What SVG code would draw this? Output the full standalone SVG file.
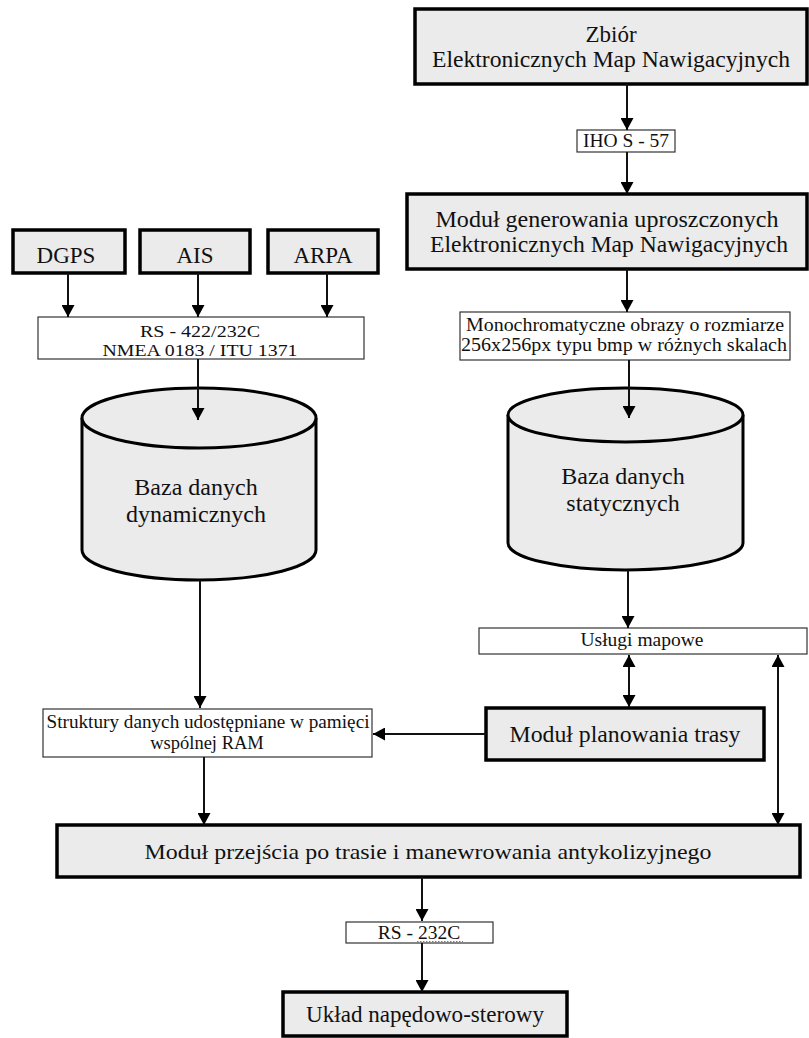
<svg xmlns="http://www.w3.org/2000/svg" width="809" height="1038" viewBox="0 0 809 1038">
<style>
.box{fill:#ebebeb;stroke:#000;stroke-width:3.5}
.lbl{fill:#fff;stroke:#333;stroke-width:1.2}
.cyl{fill:#ebebeb;stroke:#000;stroke-width:3}
text{font-family:"Liberation Serif","Times New Roman",serif;fill:#111;text-anchor:middle}
.big{font-size:23px}
.mid{font-size:19.5px}
.db{font-size:24px}
.con line{stroke:#111;stroke-width:2}
</style>
<defs>
<marker id="ah" markerUnits="userSpaceOnUse" viewBox="0 0 12 13" markerWidth="12" markerHeight="13" refX="12" refY="6.5" orient="auto-start-reverse">
<path d="M0,0 L12,6.5 L0,13 z" fill="#000"/>
</marker>
</defs>
<rect width="809" height="1038" fill="#fff"/>

<g id="zbior">
<rect class="box" x="415" y="9" width="392" height="75"/>
<text class="big" x="611" y="42">Zbiór</text>
<text class="big" x="611" y="67" textLength="358" lengthAdjust="spacingAndGlyphs">Elektronicznych Map Nawigacyjnych</text>
</g>
<g id="iho">
<rect class="lbl" x="577" y="130" width="98" height="22"/>
<text class="mid" x="626" y="147">IHO S - 57</text>
</g>
<g id="modul-gen">
<rect class="box" x="407" y="194" width="400" height="75"/>
<text class="big" x="607" y="227" textLength="343" lengthAdjust="spacingAndGlyphs">Moduł generowania uproszczonych</text>
<text class="big" x="609" y="252" textLength="358" lengthAdjust="spacingAndGlyphs">Elektronicznych Map Nawigacyjnych</text>
</g>
<g id="mono">
<rect class="lbl" x="460" y="312" width="330" height="48"/>
<text class="mid" x="625" y="331" textLength="318" lengthAdjust="spacingAndGlyphs">Monochromatyczne obrazy o rozmiarze</text>
<text class="mid" x="624" y="351" textLength="326" lengthAdjust="spacingAndGlyphs">256x256px typu bmp w różnych skalach</text>
</g>
<g id="baza-stat">
<path class="cyl" d="M508,415 A117.5,27 0 0 1 743,415 L743,543 A117.5,27 0 0 1 508,543 Z"/>
<path class="cyl" fill="none" d="M508,415 A117.5,27 0 0 0 743,415"/>
<text class="db" x="623" y="484">Baza danych</text>
<text class="db" x="623" y="511">statycznych</text>
</g>
<g id="uslugi">
<rect class="lbl" x="479" y="628" width="328" height="26"/>
<text x="642" y="646" style="font-size:18.5px" textLength="123" lengthAdjust="spacingAndGlyphs">Usługi mapowe</text>
</g>
<g id="planowanie">
<rect class="box" x="486" y="708" width="278" height="52"/>
<text class="db" x="625" y="742" textLength="231" lengthAdjust="spacingAndGlyphs">Moduł planowania trasy</text>
</g>
<g id="dgps">
<rect class="box" x="13" y="230" width="112" height="43"/>
<text class="big" x="66" y="263">DGPS</text>
</g>
<g id="ais">
<rect class="box" x="140" y="230" width="110" height="43"/>
<text class="big" x="195" y="263">AIS</text>
</g>
<g id="arpa">
<rect class="box" x="268" y="230" width="110" height="43"/>
<text class="big" x="323" y="263">ARPA</text>
</g>
<g id="rs422">
<rect class="lbl" x="38" y="317" width="326" height="42"/>
<text x="200" y="337" style="font-size:17.5px" textLength="120" lengthAdjust="spacingAndGlyphs">RS - 422/232C</text>
<text x="200" y="356" style="font-size:17.5px" textLength="195" lengthAdjust="spacingAndGlyphs">NMEA 0183 / ITU 1371</text>
</g>
<g id="baza-dyn">
<path class="cyl" d="M82,418 A117,30 0 0 1 316,418 L316,550 A117,30 0 0 1 82,550 Z"/>
<path class="cyl" fill="none" d="M82,418 A117,30 0 0 0 316,418"/>
<text class="db" x="196" y="495">Baza danych</text>
<text class="db" x="196" y="522">dynamicznych</text>
</g>
<g id="struktury">
<rect class="lbl" x="43" y="709" width="329" height="48"/>
<text x="208" y="728" style="font-size:18.5px" textLength="323" lengthAdjust="spacingAndGlyphs">Struktury danych udostępniane w pamięci</text>
<text x="207" y="749" style="font-size:18.5px">wspólnej RAM</text>
</g>
<g id="przejscie">
<rect class="box" x="57" y="825" width="743" height="52"/>
<text x="428" y="859" style="font-size:22px" textLength="567" lengthAdjust="spacingAndGlyphs">Moduł przejścia po trasie i manewrowania antykolizyjnego</text>
</g>
<g id="rs232">
<rect class="lbl" x="346" y="922" width="147" height="21"/>
<text class="mid" x="419" y="939">RS - 232C</text>
<line x1="417" y1="941.5" x2="463" y2="941.5" stroke="#d040d0" stroke-width="1" stroke-dasharray="1.5,1.5"/>
</g>
<g id="uklad">
<rect class="box" x="283" y="992" width="284" height="44"/>
<text class="big" x="425" y="1022" textLength="238" lengthAdjust="spacingAndGlyphs">Układ napędowo-sterowy</text>
</g>

<g id="connectors" class="con">
<line x1="627" y1="84" x2="627" y2="130" marker-end="url(#ah)"/>
<line x1="627" y1="152" x2="627" y2="194" marker-end="url(#ah)"/>
<line x1="627" y1="269" x2="627" y2="312" marker-end="url(#ah)"/>
<line x1="629" y1="360" x2="629" y2="418" marker-end="url(#ah)"/>
<line x1="628" y1="570" x2="628" y2="628" marker-end="url(#ah)"/>
<line x1="629" y1="655" x2="629" y2="707" marker-start="url(#ah)" marker-end="url(#ah)"/>
<line x1="778" y1="655" x2="778" y2="825" marker-start="url(#ah)" marker-end="url(#ah)"/>
<line x1="486" y1="734" x2="373" y2="734" marker-end="url(#ah)"/>
<line x1="68" y1="273" x2="68" y2="317" marker-end="url(#ah)"/>
<line x1="198" y1="273" x2="198" y2="317" marker-end="url(#ah)"/>
<line x1="327" y1="273" x2="327" y2="317" marker-end="url(#ah)"/>
<line x1="198" y1="359" x2="198" y2="420" marker-end="url(#ah)"/>
<line x1="200" y1="580" x2="200" y2="708" marker-end="url(#ah)"/>
<line x1="204" y1="757" x2="204" y2="825" marker-end="url(#ah)"/>
<line x1="422" y1="877" x2="422" y2="921" marker-end="url(#ah)"/>
<line x1="422" y1="943" x2="422" y2="992" marker-end="url(#ah)"/>
</g>
</svg>
